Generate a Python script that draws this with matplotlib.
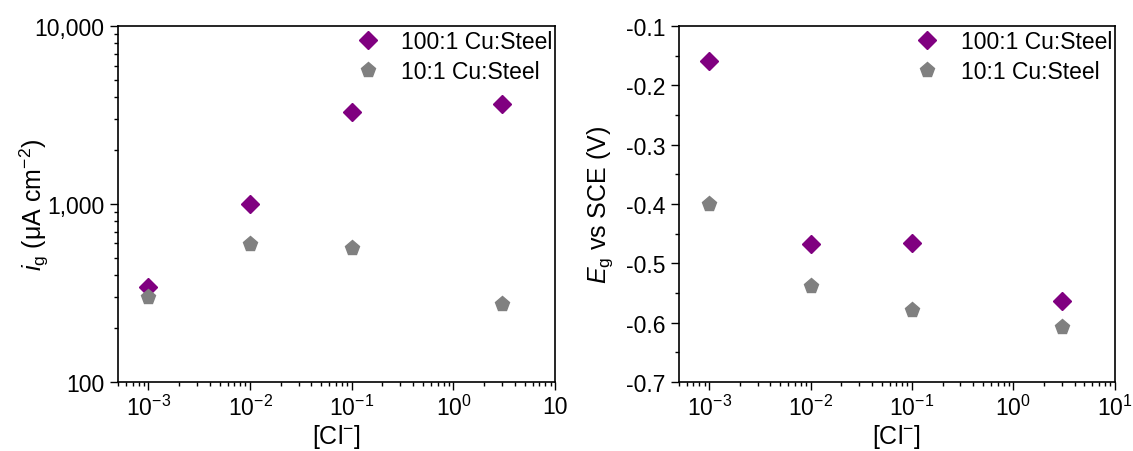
import numpy as np
import matplotlib
matplotlib.use("Agg")
import matplotlib.pyplot as plt
from matplotlib.ticker import LogLocator, FuncFormatter, MultipleLocator, NullFormatter

plt.rcParams['font.family'] = ['Liberation Sans', 'DejaVu Sans']
plt.rcParams['mathtext.fontset'] = 'custom'
plt.rcParams['mathtext.rm'] = 'Liberation Sans'
plt.rcParams['mathtext.it'] = 'Liberation Sans:italic'
plt.rcParams['axes.unicode_minus'] = False

# Data
chloride = [0.001, 0.01, 0.1, 3.0]
labels = ['100:1 Cu:Steel', '10:1 Cu:Steel']
ig_100 = [343, 995, 3300, 3640]
ig_10 = [301, 597, 566, 273]
eg_100 = [-0.158, -0.467, -0.466, -0.564]
eg_10 = [-0.400, -0.538, -0.579, -0.608]

purple = '#800080'
gray = '#808080'
fs = 16.5

fig = plt.figure(figsize=(11.33, 4.52), dpi=100)
ax1 = fig.add_axes([0.104, 0.153, 0.386, 0.787])
ax2 = fig.add_axes([0.599, 0.153, 0.385, 0.787])


def style_axes(ax):
    ax.tick_params(which='major', direction='out', length=6, width=1, labelsize=fs,
                   top=False, right=False)
    ax.tick_params(which='minor', direction='out', length=3, width=1,
                   top=False, right=False)
    for s in ax.spines.values():
        s.set_linewidth(1.2)
    ax.set_xscale('log')
    ax.set_xlim(5e-4, 10)
    ax.xaxis.set_major_locator(LogLocator(base=10, numticks=10))
    ax.xaxis.set_minor_locator(LogLocator(base=10, subs=np.arange(2, 10), numticks=20))
    ax.xaxis.set_minor_formatter(NullFormatter())
    ax.set_xlabel('[Cl$^{-}$]', fontsize=fs + 1.5, labelpad=1)


def xfmt_left(v, pos):
    e = int(round(np.log10(v)))
    if e == 1:
        return '10'
    return '$10^{%d}$' % e


def xfmt_right(v, pos):
    e = int(round(np.log10(v)))
    return '$10^{%d}$' % e


def add_legend(ax):
    ax.legend(loc='upper right', bbox_to_anchor=(1.025, 1.027), frameon=False,
              fontsize=16.5, handlelength=1.0, handletextpad=0.95,
              borderaxespad=0.2, labelspacing=0.3)


# Left panel: galvanic current density
ax1.plot(chloride, ig_100, linestyle='none', marker='D', ms=9, color=purple, label=labels[0])
ax1.plot(chloride, ig_10, linestyle='none', marker='p', ms=11, color=gray, label=labels[1])
style_axes(ax1)
ax1.set_yscale('log')
ax1.set_ylim(100, 10000)
ax1.yaxis.set_major_formatter(FuncFormatter(lambda v, p: f'{v:,.0f}'))
ax1.yaxis.set_minor_formatter(NullFormatter())
ax1.xaxis.set_major_formatter(FuncFormatter(xfmt_left))
ax1.set_ylabel(r'$i_\mathrm{g}$ ($\mathrm{\mu}$A cm$^{-2}$)', fontsize=fs + 1.5)
ax1.yaxis.set_label_coords(-0.152, 0.5)
add_legend(ax1)

# Right panel: galvanic potential
ax2.plot(chloride, eg_100, linestyle='none', marker='D', ms=9, color=purple, label=labels[0])
ax2.plot(chloride, eg_10, linestyle='none', marker='p', ms=11, color=gray, label=labels[1])
style_axes(ax2)
ax2.set_ylim(-0.7, -0.1)
ax2.yaxis.set_major_locator(MultipleLocator(0.1))
ax2.yaxis.set_minor_locator(MultipleLocator(0.05))
ax2.yaxis.set_major_formatter(FuncFormatter(lambda v, p: f'{v:.1f}'))
ax2.xaxis.set_major_formatter(FuncFormatter(xfmt_right))
ax2.set_ylabel(r'$E_\mathrm{g}$ vs SCE (V)', fontsize=fs + 1.5)
ax2.yaxis.set_label_coords(-0.145, 0.5)
add_legend(ax2)

fig.savefig('out.png', dpi=100)
